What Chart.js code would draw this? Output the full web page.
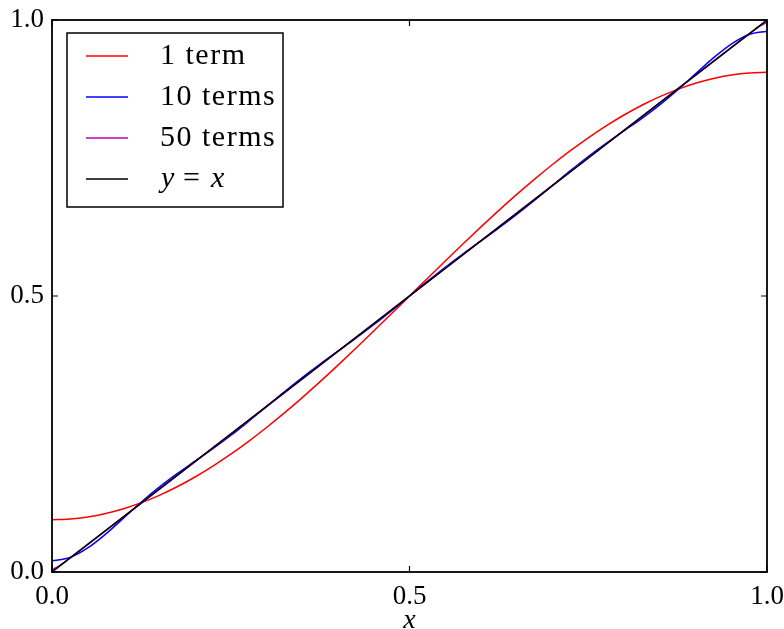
<!DOCTYPE html>
<html>
<head>
<meta charset="utf-8">
<script src="https://cdn.jsdelivr.net/npm/chart.js@4/dist/chart.umd.min.js"></script>
<style>
  html, body { margin: 0; padding: 0; background: #ffffff; }
  #wrap { width: 784px; height: 629px; position: relative; }
</style>
</head>
<body>
<div id="wrap"><canvas id="c" width="784" height="629"></canvas></div>
<script>
// ---- data ----
const xGrid = [0, 0.025, 0.05, 0.075, 0.1, 0.125, 0.15, 0.175, 0.2, 0.225, 0.25,
  0.275, 0.3, 0.325, 0.35, 0.375, 0.4, 0.425, 0.45, 0.475, 0.5,
  0.525, 0.55, 0.575, 0.6, 0.625, 0.65, 0.675, 0.7, 0.725, 0.75,
  0.775, 0.8, 0.825, 0.85, 0.875, 0.9, 0.925, 0.95, 0.975, 1];
const oneTerm = [0.0947, 0.0960, 0.0997, 0.1059, 0.1146, 0.1256, 0.1389, 0.1544, 0.1721, 0.1918, 0.2134,
  0.2368, 0.2618, 0.2882, 0.3160, 0.3449, 0.3748, 0.4054, 0.4366, 0.4682, 0.5000,
  0.5318, 0.5634, 0.5946, 0.6252, 0.6551, 0.6840, 0.7118, 0.7382, 0.7632, 0.7866,
  0.8082, 0.8279, 0.8456, 0.8611, 0.8744, 0.8854, 0.8941, 0.9003, 0.9040, 0.9053];
const tenTerms = [0.0202, 0.0263, 0.0436, 0.0687, 0.0977, 0.1268, 0.1537, 0.1781, 0.2008, 0.2234, 0.2473,
  0.2730, 0.2997, 0.3264, 0.3522, 0.3766, 0.4001, 0.4236, 0.4480, 0.4736, 0.5000,
  0.5264, 0.5520, 0.5764, 0.5999, 0.6234, 0.6478, 0.6736, 0.7003, 0.7270, 0.7527,
  0.7766, 0.7992, 0.8219, 0.8463, 0.8732, 0.9023, 0.9313, 0.9564, 0.9737, 0.9798];
const fiftyX = [0, 0.01, 0.02, 0.04, 0.5, 0.96, 0.98, 0.99, 1];
const fiftyY = [0.0041, 0.0110, 0.0205, 0.0400, 0.5, 0.9600, 0.9795, 0.9890, 0.9959];
const identX = [0, 1];
const identY = [0, 1];
const seriesLabels = ['1 term', '10 terms', '50 terms', 'y = x'];
const tickValues = [0, 0.5, 1];
const tickLabels = ['0.0', '0.5', '1.0'];

const pts = (xs, ys) => xs.map((x, i) => ({ x: x, y: ys[i] }));
const FONT = '"Liberation Serif", "Times New Roman", serif';

const frameAndTicks = {
  id: 'frameAndTicks',
  afterDatasetsDraw(chart) {
    const { ctx, chartArea: a, scales } = chart;
    ctx.save();
    ctx.strokeStyle = '#000';
    ctx.lineWidth = 1.2;
    const L = 6;
    tickValues.forEach(v => {
      const px = scales.x.getPixelForValue(v);
      const py = scales.y.getPixelForValue(v);
      ctx.beginPath();
      ctx.moveTo(px, a.bottom); ctx.lineTo(px, a.bottom - L);
      ctx.moveTo(px, a.top); ctx.lineTo(px, a.top + L);
      ctx.moveTo(a.left, py); ctx.lineTo(a.left + L, py);
      ctx.moveTo(a.right, py); ctx.lineTo(a.right - L, py);
      ctx.stroke();
    });
    ctx.lineWidth = 1.8;
    ctx.strokeRect(a.left, a.top, a.right - a.left, a.bottom - a.top);
    ctx.restore();
  },
  afterDraw(chart) {
    const { ctx } = chart;
    ctx.save();
    const bx = 67, by = 33, bw = 216, bh = 174;
    ctx.fillStyle = '#fff';
    ctx.fillRect(bx, by, bw, bh);
    ctx.strokeStyle = '#000';
    ctx.lineWidth = 1.5;
    ctx.strokeRect(bx, by, bw, bh);
    const rowY = [56, 97, 138, 179];
    chart.data.datasets.forEach((ds, i) => {
      const y = rowY[i];
      ctx.strokeStyle = ds.borderColor;
      ctx.lineWidth = 1.5;
      ctx.beginPath();
      ctx.moveTo(86, y); ctx.lineTo(128, y);
      ctx.stroke();
      ctx.fillStyle = '#000';
      ctx.textBaseline = 'middle';
      ctx.textAlign = 'left';
      if (i < 3) {
        ctx.font = '30px ' + FONT;
        ctx.letterSpacing = '1.5px';
        ctx.fillText(ds.label, 160, y);
        ctx.letterSpacing = '0px';
      } else {
        ctx.font = 'italic 30px ' + FONT;
        ctx.fillText('y', 161, y);
        ctx.font = '30px ' + FONT;
        ctx.fillText('=', 183, y);
        ctx.font = 'italic 30px ' + FONT;
        ctx.fillText('x', 211, y);
      }
    });
    ctx.restore();
  }
};

const zeroPad = s => { s.paddingLeft = 0; s.paddingRight = 0; s.paddingTop = 0; s.paddingBottom = 0; };

new Chart(document.getElementById('c'), {
  type: 'scatter',
  data: {
    datasets: [
      { label: seriesLabels[0], data: pts(xGrid, oneTerm), borderColor: '#ff0000', order: 4 },
      { label: seriesLabels[1], data: pts(xGrid, tenTerms), borderColor: '#0000ff', order: 3 },
      { label: seriesLabels[2], data: pts(fiftyX, fiftyY), borderColor: '#bf00bf', order: 2 },
      { label: seriesLabels[3], data: pts(identX, identY), borderColor: '#000000', order: 1 }
    ].map(d => Object.assign(d, {
      showLine: true, pointRadius: 0, pointHoverRadius: 0, borderWidth: 1.5,
      cubicInterpolationMode: 'monotone', fill: false
    }))
  },
  options: {
    responsive: false,
    animation: false,
    events: [],
    layout: { padding: { left: 0, top: 20, right: 17, bottom: 0 } },
    plugins: { legend: { display: false }, tooltip: { enabled: false } },
    scales: {
      x: {
        type: 'linear', min: 0, max: 1,
        afterBuildTicks: s => { s.ticks = tickValues.map(v => ({ value: v })); },
        afterFit: s => { s.height = 57; zeroPad(s); },
        grid: { display: false, drawTicks: false },
        border: { display: false },
        ticks: {
          padding: 9, color: '#000', font: { family: FONT, size: 27 },
          maxRotation: 0,
          callback: (v) => tickLabels[tickValues.indexOf(v)]
        },
        title: { display: true, text: 'x', color: '#000', padding: { top: 0, bottom: -6 },
          font: { family: FONT, size: 28, style: 'italic', lineHeight: 1 } }
      },
      y: {
        type: 'linear', min: 0, max: 1,
        afterBuildTicks: s => { s.ticks = tickValues.map(v => ({ value: v })); },
        afterFit: s => { s.width = 52; zeroPad(s); },
        grid: { display: false, drawTicks: false },
        border: { display: false },
        ticks: {
          padding: 8, color: '#000', font: { family: FONT, size: 27 },
          callback: (v) => tickLabels[tickValues.indexOf(v)]
        }
      }
    }
  },
  plugins: [frameAndTicks]
});
</script>
</body>
</html>
